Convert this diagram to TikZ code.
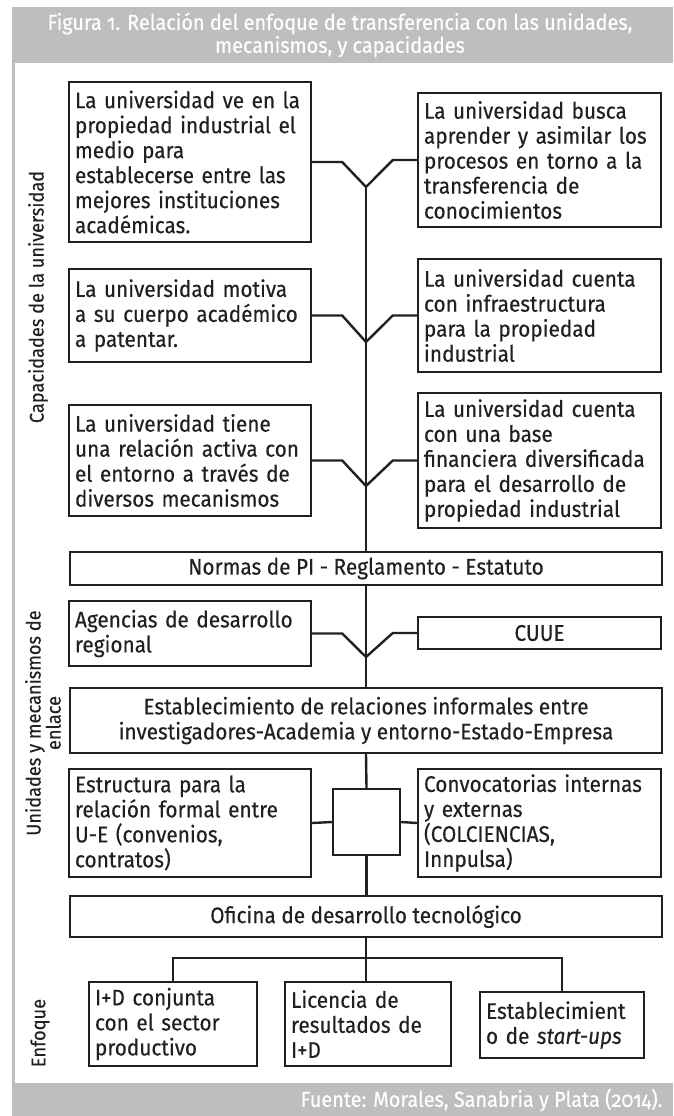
\documentclass[tikz,border=0pt]{standalone}
\usepackage{fontspec}
\setmainfont{Fira Sans}[Numbers=OldStyle, FakeStretch=0.92, FakeBold=0.3]
\usetikzlibrary{calc}
\definecolor{framegray}{HTML}{BCBEC0}
\definecolor{ink}{HTML}{231F20}
\tikzset{
  boxbase/.style={draw=ink, line width=2.4pt, inner xsep=6pt, inner ysep=2pt, text=ink,
    font=\fontsize{22.6}{25}\selectfont},
  lbox/.style={boxbase, align=left, text width=#1},
  cbox/.style={boxbase, align=center},
  conn/.style={draw=ink, line width=2.4pt, line join=miter},
  sidelabel/.style={rotate=90, text=ink, align=center, font=\fontsize{19.8}{13}\selectfont},
  whitetext/.style={text=white, font=\fontsize{21.6}{23}\selectfont}
}
\begin{document}
\begin{tikzpicture}[x=1pt,y=-1pt]
\useasboundingbox (0,0) rectangle (673,1116);
% frame
\fill[framegray] (12,7) rectangle (673,1116);
\fill[white] (15,63) rectangle (673,1083);
\node[whitetext, align=center] (title) at (340,35) {Figura 1. Relación del enfoque de transferencia con las unidades,\\mecanismos, y capacidades};
\node[whitetext, anchor=east] (source) at (666,1100) {Fuente: Morales, Sanabria y Plata (2014).};

% side labels
\node[sidelabel] (lab1) at (38,297) {Capacidades de la universidad};
\node[sidelabel] (lab2) at (43,723) {Unidades y mecanismos de\\enlace};
\node[sidelabel] (lab3) at (40,1033) {Enfoque};

% capacities
\node[lbox=230pt, minimum width=242pt, minimum height=160pt] (l1) at (190,162) {La universidad ve en la\\propiedad industrial el\\medio para\\establecerse entre las\\mejores instituciones\\académicas.};
\node[lbox=231pt, minimum width=243pt, minimum height=134pt] (r1) at (539.5,160) {La universidad busca\\aprender y asimilar los\\procesos en torno a la\\transferencia de\\conocimientos};
\node[lbox=230pt, minimum width=242pt, minimum height=93pt] (l2) at (190,315.5) {La universidad motiva\\a su cuerpo académico\\a patentar.};
\node[lbox=231pt, minimum width=243pt, minimum height=113pt] (r2) at (539.5,315.5) {La universidad cuenta\\con infraestructura\\para la propiedad\\industrial};
\node[lbox=230pt, minimum width=242pt, minimum height=111pt] (l3) at (190,460.5) {La universidad tiene\\una relación activa con\\el entorno a través de\\diversos mecanismos};
\node[lbox=231pt, minimum width=243pt, minimum height=135pt] (r3) at (539.5,460.5) {La universidad cuenta\\con una base\\financiera diversificada\\para el desarrollo de\\propiedad industrial};

% units and mechanisms
\node[cbox, minimum width=592pt, minimum height=33pt] (normas) at (366,568.5) {Normas de PI - Reglamento - Estatuto};
\node[lbox=230pt, minimum width=242pt, minimum height=65pt] (agencias) at (190,633.5) {Agencias de desarrollo\\regional};
\node[cbox, minimum width=243pt, minimum height=32pt] (cuue) at (539.5,633) {CUUE};
\node[cbox, minimum width=592pt, minimum height=65pt] (estab) at (366,720.5) {Establecimiento de relaciones informales entre\\investigadores-Academia y entorno-Estado-Empresa};
\node[lbox=230pt, minimum width=242pt, minimum height=108pt] (estruc) at (190,823) {Estructura para la\\relación formal entre\\U-E (convenios,\\contratos)};
\node[lbox=231pt, minimum width=243pt, minimum height=108pt] (convoc) at (539.5,823) {Convocatorias internas\\y externas\\(COLCIENCIAS,\\Innpulsa)};
\node[boxbase, minimum width=67pt, minimum height=66pt] (sq) at (366.5,822) {};
\node[cbox, minimum width=592pt, minimum height=41pt] (oficina) at (366,916.5) {Oficina de desarrollo tecnológico};

% approach
\node[lbox=156pt, minimum width=168pt, minimum height=84pt] (b1) at (173,1024) {I+D conjunta\\con el sector\\productivo};
\node[lbox=154pt, minimum width=166pt, minimum height=84pt] (b2) at (368,1024) {Licencia de\\resultados de\\I+D};
\node[lbox=152pt, minimum width=164pt, minimum height=66pt] (b3) at (562,1025) {Establecimient\\o de \textit{start-ups}};

% junction coordinates
\coordinate (v1) at (366,187);
\coordinate (v2) at (366,342);
\coordinate (v3) at (366,486);
\coordinate (v4) at (366,657);
\coordinate (t) at (366,958);

% V connectors
\draw[conn] (l1.east) -- ++(30,0) -- (v1) -- ($(r1.west)+(-24,0)$) -- (r1.west);
\draw[conn] (l2.east) -- ++(30,0) -- (v2) -- ($(r2.west)+(-24,0)$) -- (r2.west);
\draw[conn] (l3.east) -- ++(30,0) -- (v3) -- ($(r3.west)+(-24,0)$) -- (r3.west);
\draw[conn] (agencias.east) -- ++(30,0) -- (v4) -- ($(cuue.west)+(-24,0)$) -- (cuue.west);

% main trunk
\draw[conn] (v1) -- (v1 |- normas.north);
\draw[conn] (v1 |- normas.south) -- (v4) -- (v4 |- estab.north);
\draw[conn] (v4 |- estab.south) -- (sq.north);
\draw[conn] (sq.west) -- (estruc.east);
\draw[conn] (sq.east) -- (convoc.west);
\draw[conn] (sq.south) -- (sq.south |- oficina.north);
\draw[conn] (t |- oficina.south) -- (t);
\draw[conn] (b1.north) -- (b1.north |- t) -- (b3.north |- t) -- (b3.north);
\draw[conn] (t) -- (b2.north -| t);
\end{tikzpicture}
\end{document}
